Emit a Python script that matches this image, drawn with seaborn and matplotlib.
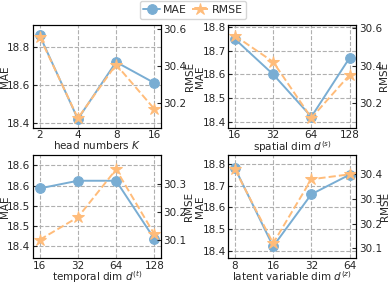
import numpy as np
import pandas as pd
import matplotlib
matplotlib.use("Agg")
import matplotlib.pyplot as plt
import seaborn as sns

sns.set_style("white")
plt.rcParams['font.family'] = ['DejaVu Sans']
plt.rcParams['font.size'] = 7.5
plt.rcParams['xtick.direction'] = 'in'
plt.rcParams['ytick.direction'] = 'in'

# ---- data ----
x_labels_k = ["2", "4", "8", "16"]
mae_k = [18.86, 18.42, 18.72, 18.61]
rmse_k = [30.56, 30.12, 30.41, 30.17]

x_labels_s = ["16", "32", "64", "128"]
mae_s = [18.75, 18.60, 18.42, 18.67]
rmse_s = [30.56, 30.42, 30.12, 30.35]

x_labels_t = ["16", "32", "64", "128"]
mae_t = [18.543, 18.562, 18.562, 18.418]
rmse_t = [30.10, 30.18, 30.35, 30.12]

x_labels_z = ["8", "16", "32", "64"]
mae_z = [18.78, 18.42, 18.66, 18.75]
rmse_z = [30.42, 30.12, 30.38, 30.40]

xlabels = ["head numbers $K$", "spatial dim $d^{(s)}$",
           "temporal dim $d^{(t)}$", "latent variable dim $d^{(z)}$"]

mae_ticks = [[18.4, 18.6, 18.8], [18.4, 18.5, 18.6, 18.7, 18.8],
             [18.40, 18.45, 18.50, 18.55, 18.60], [18.4, 18.5, 18.6, 18.7, 18.8]]
mae_ticklabels = [["18.4", "18.6", "18.8"], ["18.4", "18.5", "18.6", "18.7", "18.8"],
                  ["18.4", "18.5", "18.5", "18.6", "18.6"], ["18.4", "18.5", "18.6", "18.7", "18.8"]]
rmse_ticks = [[30.2, 30.4, 30.6], [30.2, 30.4, 30.6],
              [30.1, 30.2, 30.3], [30.1, 30.2, 30.3, 30.4]]
mae_lims = [(18.375, 18.915), (18.374, 18.81), (18.37, 18.625), (18.366, 18.839)]
rmse_lims = [(30.069, 30.624), (30.068, 30.618), (30.035, 30.40), (30.06, 30.477)]

MAE_C = '#79ADD3'
RMSE_C = '#FFBC7A'

fig, axes = plt.subplots(2, 2, figsize=(3.9, 2.83), dpi=100)
plt.subplots_adjust(left=0.085, right=0.913, top=0.912, bottom=0.088,
                    wspace=0.53, hspace=0.27)

series = [(x_labels_k, mae_k, rmse_k), (x_labels_s, mae_s, rmse_s),
          (x_labels_t, mae_t, rmse_t), (x_labels_z, mae_z, rmse_z)]
rmse_label_x = [1.225, 1.215, 1.22, 1.225]

for i, ax in enumerate(axes.flat):
    labs, mae, rmse = series[i]
    df = pd.DataFrame({"pos": np.arange(len(labs)), "MAE": mae, "RMSE": rmse})
    sns.lineplot(data=df, x="pos", y="MAE", ax=ax, color=MAE_C, marker='o',
                 markersize=7, mec=MAE_C, lw=1.4, label="MAE", legend=False)
    ax2 = ax.twinx()
    sns.lineplot(data=df, x="pos", y="RMSE", ax=ax2, color=RMSE_C, marker='*',
                 markersize=9, mec=RMSE_C, lw=1.4, linestyle='--', label="RMSE",
                 legend=False)
    ax.set_xticks(np.arange(len(labs)))
    ax.set_xticklabels(labs)
    ax.set_xlim(-0.17, 3.17)
    ax.set_ylim(*mae_lims[i])
    ax.set_yticks(mae_ticks[i])
    ax.set_yticklabels(mae_ticklabels[i])
    ax2.set_ylim(*rmse_lims[i])
    ax2.set_yticks(rmse_ticks[i])
    ax2.set_yticklabels([f"{v:.1f}" for v in rmse_ticks[i]])
    ax.grid(True, linestyle='--', color='#b0b0b0', lw=0.8)
    ax.set_xlabel(xlabels[i], labelpad=-1)
    ax.set_ylabel("MAE", va='center')
    ax2.set_ylabel("RMSE", va='center')
    ax.yaxis.set_label_coords(-0.22, 0.5)
    ax2.yaxis.set_label_coords(rmse_label_x[i], 0.5)
    ax.tick_params(axis='both', pad=2, length=3, width=0.8)
    ax2.tick_params(axis='y', pad=2, length=3, width=0.8)
    for sp in list(ax.spines.values()) + list(ax2.spines.values()):
        sp.set_color('black')
        sp.set_linewidth(0.8)

handles = []
labels = []
for a in fig.axes:
    hh, ll = a.get_legend_handles_labels()
    for h, l in zip(hh, ll):
        if l not in labels:
            handles.append(h)
            labels.append(l)
fig.legend(handles, labels, loc='upper center', bbox_to_anchor=(0.495, 1.015),
           ncol=2, frameon=True, fontsize=7.8, handlelength=1.5,
           handletextpad=0.3, columnspacing=0.5, borderpad=0.35,
           edgecolor='#cccccc', fancybox=True)

fig.savefig("out.png", dpi=100)
